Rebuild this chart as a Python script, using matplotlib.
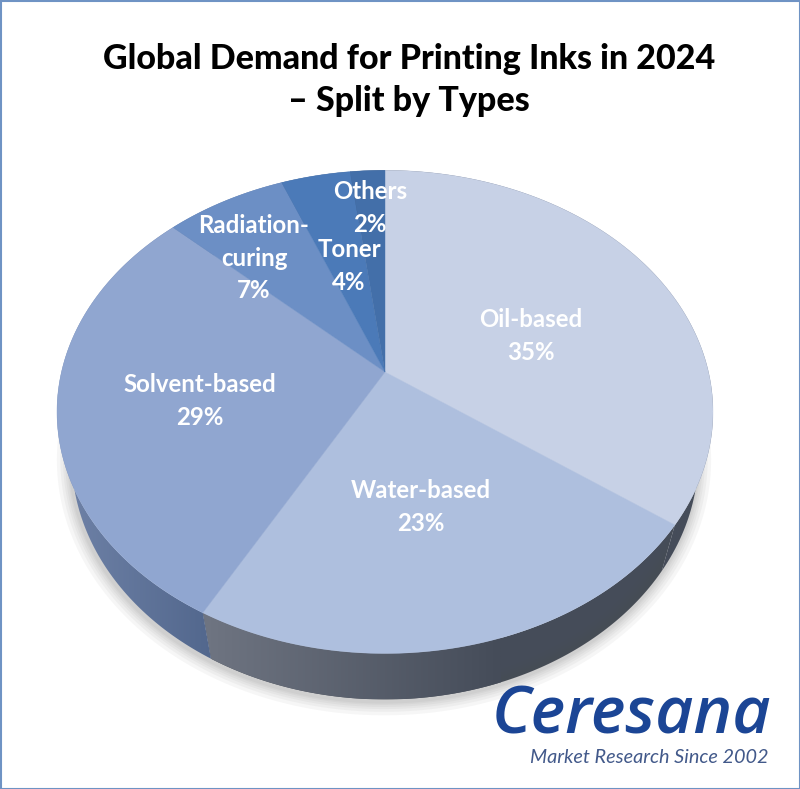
import matplotlib
matplotlib.use("Agg")
import matplotlib.pyplot as plt
import numpy as np
from matplotlib.patches import Polygon, Rectangle

labels = ['Oil-based', 'Water-based', 'Solvent-based', 'Radiation-\ncuring', 'Toner', 'Others']
values = [35, 23, 29, 7, 4, 2]
top_colors = ['#c7d1e6', '#aebfde', '#90a6d0', '#6c8fc5', '#4b7ab8', '#436fa9']
side_left = ['#454c59', '#6f7582', '#7083a8', '#5b7199', '#4a6286', '#3f5678']
side_right = ['#454c59', '#454c59', '#52678d', '#5b7199', '#4a6286', '#3f5678']
label_x = [531, 421, 200, 254, 349, 370]
label_y = [336, 507, 401, 258, 266, 208]

plt.rcParams['font.family'] = ['Lato', 'DejaVu Sans']

fig = plt.figure(figsize=(8, 7.89), dpi=100)
ax = fig.add_axes([0, 0, 1, 1])
ax.set_xlim(0, 800)
ax.set_ylim(789, 0)
ax.axis('off')

# perspective view of the disc, angle is clockwise from 12 o'clock
CX, CY = 385, 372
A, B, K = 323.5, 235, 0.165


def top_xy(theta):
    u, v = np.sin(theta), np.cos(theta)
    w = 1 + K * v
    return CX + A * u / w, CY - B * v / w


def bottom_xy(theta):
    x, y = top_xy(theta)
    return CX + (x - CX) * 0.955, y + 46


edges = np.cumsum([0] + values) / sum(values) * 2 * np.pi

# soft shadow under the disc
t = np.linspace(0, 2 * np.pi, 400)
bx, by = bottom_xy(t)
for lw in [20, 15, 11, 8, 5, 3]:
    ax.fill(bx - 1, by + 2, facecolor='none', edgecolor='#555555', alpha=0.05, lw=lw, joinstyle='round')

# side wall, each slice gets its own left to right gradient
for i in range(len(values)):
    t = np.linspace(edges[i], edges[i + 1], 120)
    x1, y1 = top_xy(t)
    x2, y2 = bottom_xy(t)
    pts = np.column_stack([np.r_[x1, x2[::-1]], np.r_[y1, y2[::-1]]])
    poly = Polygon(pts, closed=True, facecolor='none', edgecolor='none', transform=ax.transData)
    ax.add_patch(poly)
    xa, xb = pts[:, 0].min(), pts[:, 0].max()
    if i == 1:
        xb = 500
    cmap = matplotlib.colors.LinearSegmentedColormap.from_list('s', [side_left[i], side_right[i]])
    grad = np.linspace(0, 1, 256).reshape(1, -1)
    im = ax.imshow(grad, cmap=cmap, extent=[xa, xb, pts[:, 1].max(), pts[:, 1].min()], aspect='auto', zorder=1)
    if i == 1:
        # rest of this wall stays dark
        ax.fill(pts[:, 0], pts[:, 1], color=side_right[i], zorder=0.9, lw=0)
    im.set_clip_path(poly)
ax.set_xlim(0, 800)
ax.set_ylim(789, 0)

# top face
for i in range(len(values)):
    t = np.linspace(edges[i], edges[i + 1], 200)
    x, y = top_xy(t)
    ax.fill(np.r_[CX, x], np.r_[CY, y], color=top_colors[i], lw=0.3, zorder=2)

for i in range(len(values)):
    ax.text(label_x[i], label_y[i], '{}\n{}%'.format(labels[i], values[i]), color='white',
            fontsize=17.3, fontweight='bold', ha='center', va='center', linespacing=1.5, zorder=3)

ax.text(409, 80, 'Global Demand for Printing Inks in 2024\n– Split by Types', color='black',
        fontsize=24.5, fontweight='black', ha='center', va='center', linespacing=1.4, zorder=3)

# logo
ax.text(771, 734, 'Ceresana', color='#1b4595', fontsize=47.5, style='italic', fontweight='semibold',
        family='Open Sans', ha='right', va='baseline', zorder=3)
ax.text(769, 763, 'Market Research Since 2002', color='#42598a', fontsize=14.3, style='italic',
        ha='right', va='baseline', zorder=3)

ax.add_patch(Rectangle((0.5, 0.5), 799, 788, facecolor='none', edgecolor='#6f93c4', lw=1.5, zorder=4))

fig.savefig('out.png', dpi=100)
